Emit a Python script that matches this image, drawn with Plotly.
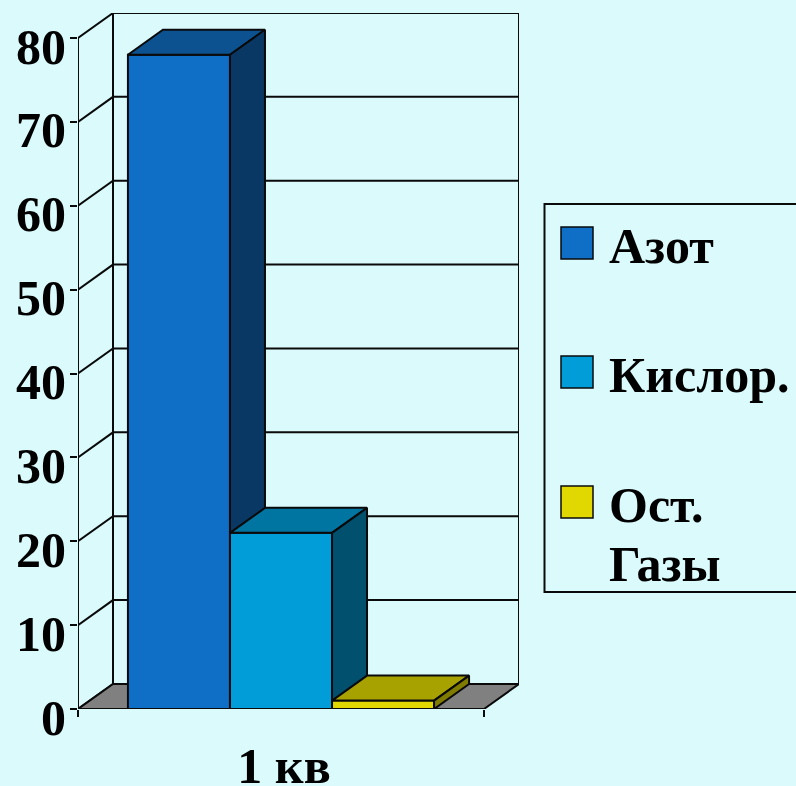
import plotly.graph_objects as go

# Data
category = "1 кв"
series_names = ["Азот", "Кислор.", "Ост. Газы"]
series_values = [78, 21, 1]
y_ticks = [0, 10, 20, 30, 40, 50, 60, 70, 80]

# Styles
front_colors = ["#0F6FC6", "#009DD9", "#E0D800"]
top_colors = ["#0C5290", "#0075A2", "#A8A200"]
side_colors = ["#0A3864", "#00506E", "#807C00"]
INK = "#0a0a0a"
BG = "#DAFAFC"
FLOOR = "#808080"
FONT = "Liberation Serif"

W, H = 796, 786
L, R, T, B = 78, 519, 13, 709          # plot area in pixels
px_per_cat = 406.0
px_per_val = 8.38
dx = (R - L - px_per_cat) / px_per_cat  # depth in axis units
dy = 25 / px_per_val
bargap = 0.246
bw = (1 - bargap) / len(series_values)
x0 = -0.5 + bargap / 2


def px(x):
    return (x - L) / (R - L)


def py(y):
    return (B - y) / (B - T)


fig = go.Figure()

# Back walls and gridlines
gx, gy = [], []
for v in y_ticks:
    gx += [-0.5, -0.5 + dx, 0.5 + dx, None]
    gy += [v, v + dy, v + dy, None]
gx += [-0.5 + dx, -0.5 + dx, None, 0.5 + dx, 0.5 + dx]
gy += [dy, max(y_ticks) + dy, None, dy, max(y_ticks) + dy]
fig.add_trace(go.Scatter(x=gx, y=gy, mode="lines", line=dict(color=INK, width=2),
                         cliponaxis=False, zorder=0, showlegend=False, hoverinfo="skip"))
# Floor
fig.add_trace(go.Scatter(x=[-0.5, 0.5, 0.5 + dx, -0.5 + dx, -0.5], y=[0, 0, dy, dy, 0],
                         mode="lines", fill="toself", fillcolor=FLOOR,
                         line=dict(color=INK, width=2), cliponaxis=False, zorder=1,
                         showlegend=False, hoverinfo="skip"))
# Value axis line
fig.add_trace(go.Scatter(x=[-0.5, -0.5], y=[0, max(y_ticks)], mode="lines",
                         line=dict(color=INK, width=2), cliponaxis=False, zorder=1,
                         showlegend=False, hoverinfo="skip"))

# Bars
for i, (name, v) in enumerate(zip(series_names, series_values)):
    z = 2 + 2 * i
    fig.add_trace(go.Bar(x=[0], y=[v], name=name, marker=dict(color=front_colors[i],
                         line=dict(color=INK, width=2)), zorder=z, cliponaxis=False,
                         showlegend=False))
    a = x0 + i * bw
    b = a + bw
    fig.add_trace(go.Scatter(x=[a, b, b + dx, a + dx, a], y=[v, v, v + dy, v + dy, v],
                             mode="lines", fill="toself", fillcolor=top_colors[i],
                             line=dict(color=INK, width=2), zorder=z + 1, cliponaxis=False,
                             showlegend=False, hoverinfo="skip"))
    fig.add_trace(go.Scatter(x=[b, b + dx, b + dx, b, b], y=[v, v + dy, dy, 0, v],
                             mode="lines", fill="toself", fillcolor=side_colors[i],
                             line=dict(color=INK, width=2), zorder=z + 1, cliponaxis=False,
                             showlegend=False, hoverinfo="skip"))

# Legend drawn to the original's proportions
shapes = [dict(type="rect", xref="paper", yref="paper", x0=px(544.5), x1=px(804),
               y0=py(592), y1=py(204), line=dict(color=INK, width=2), fillcolor=BG, layer="below")]
swatch_tops = [227, 356, 486]
annotations = []
label_baselines = [[262], [391], [521, 580]]
for i, name in enumerate(series_names):
    shapes.append(dict(type="rect", xref="paper", yref="paper", x0=px(561), x1=px(593),
                       y0=py(swatch_tops[i] + 32), y1=py(swatch_tops[i]),
                       fillcolor=front_colors[i], line=dict(color=INK, width=1.5)))
    for line, base in zip(name.split(" "), label_baselines[i]):
        annotations.append(dict(text=line, xref="paper", yref="paper", x=px(608), y=py(base + 13),
                                xanchor="left", yanchor="bottom", showarrow=False,
                                borderpad=0, font=dict(family=FONT, size=50, color="black", weight="bold")))

fig.update_layout(
    width=W, height=H, autosize=False,
    margin=dict(l=L, r=W - R, t=T, b=H - B, pad=0),
    paper_bgcolor=BG, plot_bgcolor="rgba(0,0,0,0)",
    barmode="group", bargap=bargap, bargroupgap=0,
    showlegend=False, shapes=shapes, annotations=annotations,
    xaxis=dict(range=[-0.5, 0.5 + dx], tickmode="array", tickvals=[0], ticktext=[category],
               ticks="", showgrid=False, zeroline=False, showline=False, automargin=False,
               tickfont=dict(family=FONT, size=50, color="black", weight="bold"),
               ticklabelstandoff=23, ticklabelshift=3,
               minor=dict(tickmode="array", tickvals=[-0.5, 0.5], ticks="outside", ticklen=7,
                          tickwidth=2, tickcolor=INK, showgrid=False)),
    yaxis=dict(range=[0, max(y_ticks) + dy], tickmode="array", tickvals=y_ticks,
               ticks="outside", ticklen=7, tickwidth=2, tickcolor=INK, automargin=False,
               showgrid=False, zeroline=False, showline=False,
               tickfont=dict(family=FONT, size=50, color="black", weight="bold"),
               ticklabelshift=8, ticklabelstandoff=-6),
)
fig.write_html("out.html", config=dict(displayModeBar=False),
               post_script="document.body.style.margin='0';document.body.style.overflow='hidden';document.body.style.background='#DAFAFC';")
